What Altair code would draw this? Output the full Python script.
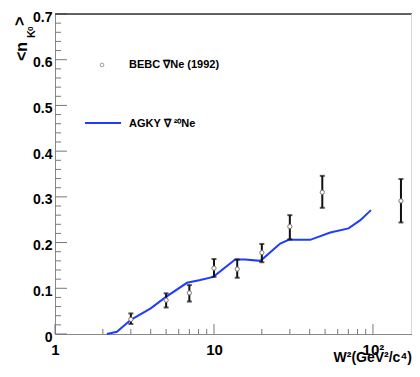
import altair as alt
import pandas as pd

# --- data ---
bebc_w2 = [3, 5, 7, 10, 14, 20, 30, 48, 150]
bebc_n = [0.032, 0.074, 0.090, 0.144, 0.142, 0.178, 0.235, 0.310, 0.291]
bebc_lo = [0.022, 0.058, 0.071, 0.125, 0.123, 0.157, 0.207, 0.276, 0.244]
bebc_hi = [0.045, 0.089, 0.107, 0.164, 0.163, 0.197, 0.260, 0.346, 0.339]

agky_w2 = [2.12, 2.45, 3.0, 4.0, 4.94, 6.76, 8.2, 9.9, 13.6, 15.7, 19.6, 26.1, 29.5, 40.3, 53.9, 70.2, 83.3, 97.1]
agky_n = [0.0, 0.005, 0.031, 0.056, 0.080, 0.112, 0.118, 0.125, 0.163, 0.163, 0.160, 0.198, 0.206, 0.206, 0.222, 0.231, 0.249, 0.271]

x_major = [1, 10, 100]
x_minor = [2, 3, 4, 5, 6, 7, 8, 9, 20, 30, 40, 50, 60, 70, 80, 90]
y_major = [0, 0.1, 0.2, 0.3, 0.4, 0.5, 0.6, 0.7]
y_minor = [0.02, 0.04, 0.06, 0.08, 0.12, 0.14, 0.16, 0.18, 0.22, 0.24, 0.26, 0.28,
           0.32, 0.34, 0.36, 0.38, 0.42, 0.44, 0.46, 0.48, 0.52, 0.54, 0.56, 0.58,
           0.62, 0.64, 0.66, 0.68]

legend_bebc = "BEBC \u2207\u0304Ne (1992)"
legend_agky = "AGKY \u2207\u0304 \u00b2\u2070Ne"
x_title = "W\u00b2(GeV\u00b2/c\u2074)"

W, H = 357, 320
X_MAX = 176
FONT = "Liberation Sans"

xscale = alt.Scale(type="log", domain=[1, X_MAX], nice=False, padding=0)
yscale = alt.Scale(domain=[0, 0.7], nice=False, zero=False, padding=0)

xaxis = alt.Axis(values=x_major, ticks=False, grid=False, domainColor="#888888",
                 labelExpr="datum.value >= 100 ? '10\u00b2' : format(datum.value, 'd')",
                 labelFont=FONT, labelFontWeight="bold", labelFontSize=15, labelColor="#000000",
                 labelPadding=8, labelBaseline="top", title=None, labelFlush=False)
yaxis = alt.Axis(values=y_major, ticks=False, grid=False, domainColor="#888888",
                 labelExpr="datum.value == 0 ? '0' : format(datum.value, '.1f')",
                 labelFont=FONT, labelFontWeight="bold", labelFontSize=14, labelColor="#000000",
                 labelPadding=3, labelOffset=3, title=None, labelFlush=False)


def X(field):
    return alt.X(field, type="quantitative", scale=xscale, axis=xaxis)


def Y(field):
    return alt.Y(field, type="quantitative", scale=yscale, axis=yaxis)


bebc = pd.DataFrame({"w2": bebc_w2, "n": bebc_n, "lo": bebc_lo, "hi": bebc_hi})
agky = pd.DataFrame({"w2": agky_w2, "n": agky_n})

line = alt.Chart(agky).mark_line(color="#1f3cff", strokeWidth=2).encode(x=X("w2"), y=Y("n"))

bars = alt.Chart(bebc).mark_rule(color="#111111", strokeWidth=2).encode(
    x=X("w2"), y=Y("lo"), y2="hi")
cap_lo = alt.Chart(bebc).mark_tick(color="#111111", orient="horizontal", size=5, thickness=2).encode(
    x=X("w2"), y=Y("lo"))
cap_hi = alt.Chart(bebc).mark_tick(color="#111111", orient="horizontal", size=5, thickness=2).encode(
    x=X("w2"), y=Y("hi"))
pts = alt.Chart(bebc).mark_point(shape="circle", size=18, filled=False, fill="white",
                                 stroke="#777777", strokeWidth=1, opacity=1).encode(
    x=X("w2"), y=Y("n"))

# inward ticks
xmaj = alt.Chart(pd.DataFrame({"v": x_major})).mark_rule(color="#777777", strokeWidth=1).encode(
    x=X("v"), y=alt.value(H), y2=alt.value(H - 10))
xmin = alt.Chart(pd.DataFrame({"v": x_minor})).mark_rule(color="#777777", strokeWidth=1).encode(
    x=X("v"), y=alt.value(H), y2=alt.value(H - 5))
ymaj = alt.Chart(pd.DataFrame({"v": y_major})).mark_rule(color="#777777", strokeWidth=1).encode(
    y=Y("v"), x=alt.value(0), x2=alt.value(12))
ymin = alt.Chart(pd.DataFrame({"v": y_minor})).mark_rule(color="#777777", strokeWidth=1).encode(
    y=Y("v"), x=alt.value(0), x2=alt.value(6))

one = pd.DataFrame({"k": [0]})
top = alt.Chart(one).mark_rule(color="#333333", strokeWidth=1.6).encode(
    x=alt.value(0), x2=alt.value(W), y=alt.value(0))
right = alt.Chart(one).mark_rule(color="#d8d8d8", strokeWidth=1).encode(
    x=alt.value(W - 0.5), y=alt.value(0), y2=alt.value(H))

# legend
leg_pt = alt.Chart(one).mark_point(shape="circle", size=14, filled=False, fill="white",
                                   stroke="#777777", strokeWidth=1).encode(
    x=alt.value(47), y=alt.value(51))
leg_line = alt.Chart(one).mark_rule(color="#1f3cff", strokeWidth=2).encode(
    x=alt.value(30), x2=alt.value(66), y=alt.value(109))


def txt(s, x, y, size, angle=0, align="left", baseline="middle"):
    return alt.Chart(pd.DataFrame({"t": [s]})).mark_text(
        font=FONT, fontWeight="bold", fontSize=size, align=align, baseline=baseline,
        angle=angle, color="#000000").encode(text="t:N", x=alt.value(x), y=alt.value(y))


texts = [
    txt(legend_bebc, 74, 51, 11),
    txt(legend_agky, 74, 110, 11),
    txt(x_title, W, 348, 14, align="right", baseline="alphabetic"),
    # y title pieces <n_{K0}>, rotated
    txt("<n", -28, 47, 16, angle=270, baseline="alphabetic"),
    txt("K", -20, 24, 11, angle=270, baseline="alphabetic"),
    txt("0", -22, 17, 8, angle=270, baseline="alphabetic"),
    txt(">", -30, 12, 16, angle=270, baseline="alphabetic"),
]

chart = alt.layer(xmin, xmaj, ymin, ymaj, top, right, line, bars, cap_lo, cap_hi, pts,
                  leg_pt, leg_line, *texts).properties(
    width=W, height=H,
    padding={"left": 47, "top": 6, "right": 0, "bottom": 31},
    autosize=alt.AutoSizeParams(type="none"),
).configure_view(stroke=None).configure(background="white")

chart.save("out.html", embed_options={"renderer": "svg", "actions": False})
